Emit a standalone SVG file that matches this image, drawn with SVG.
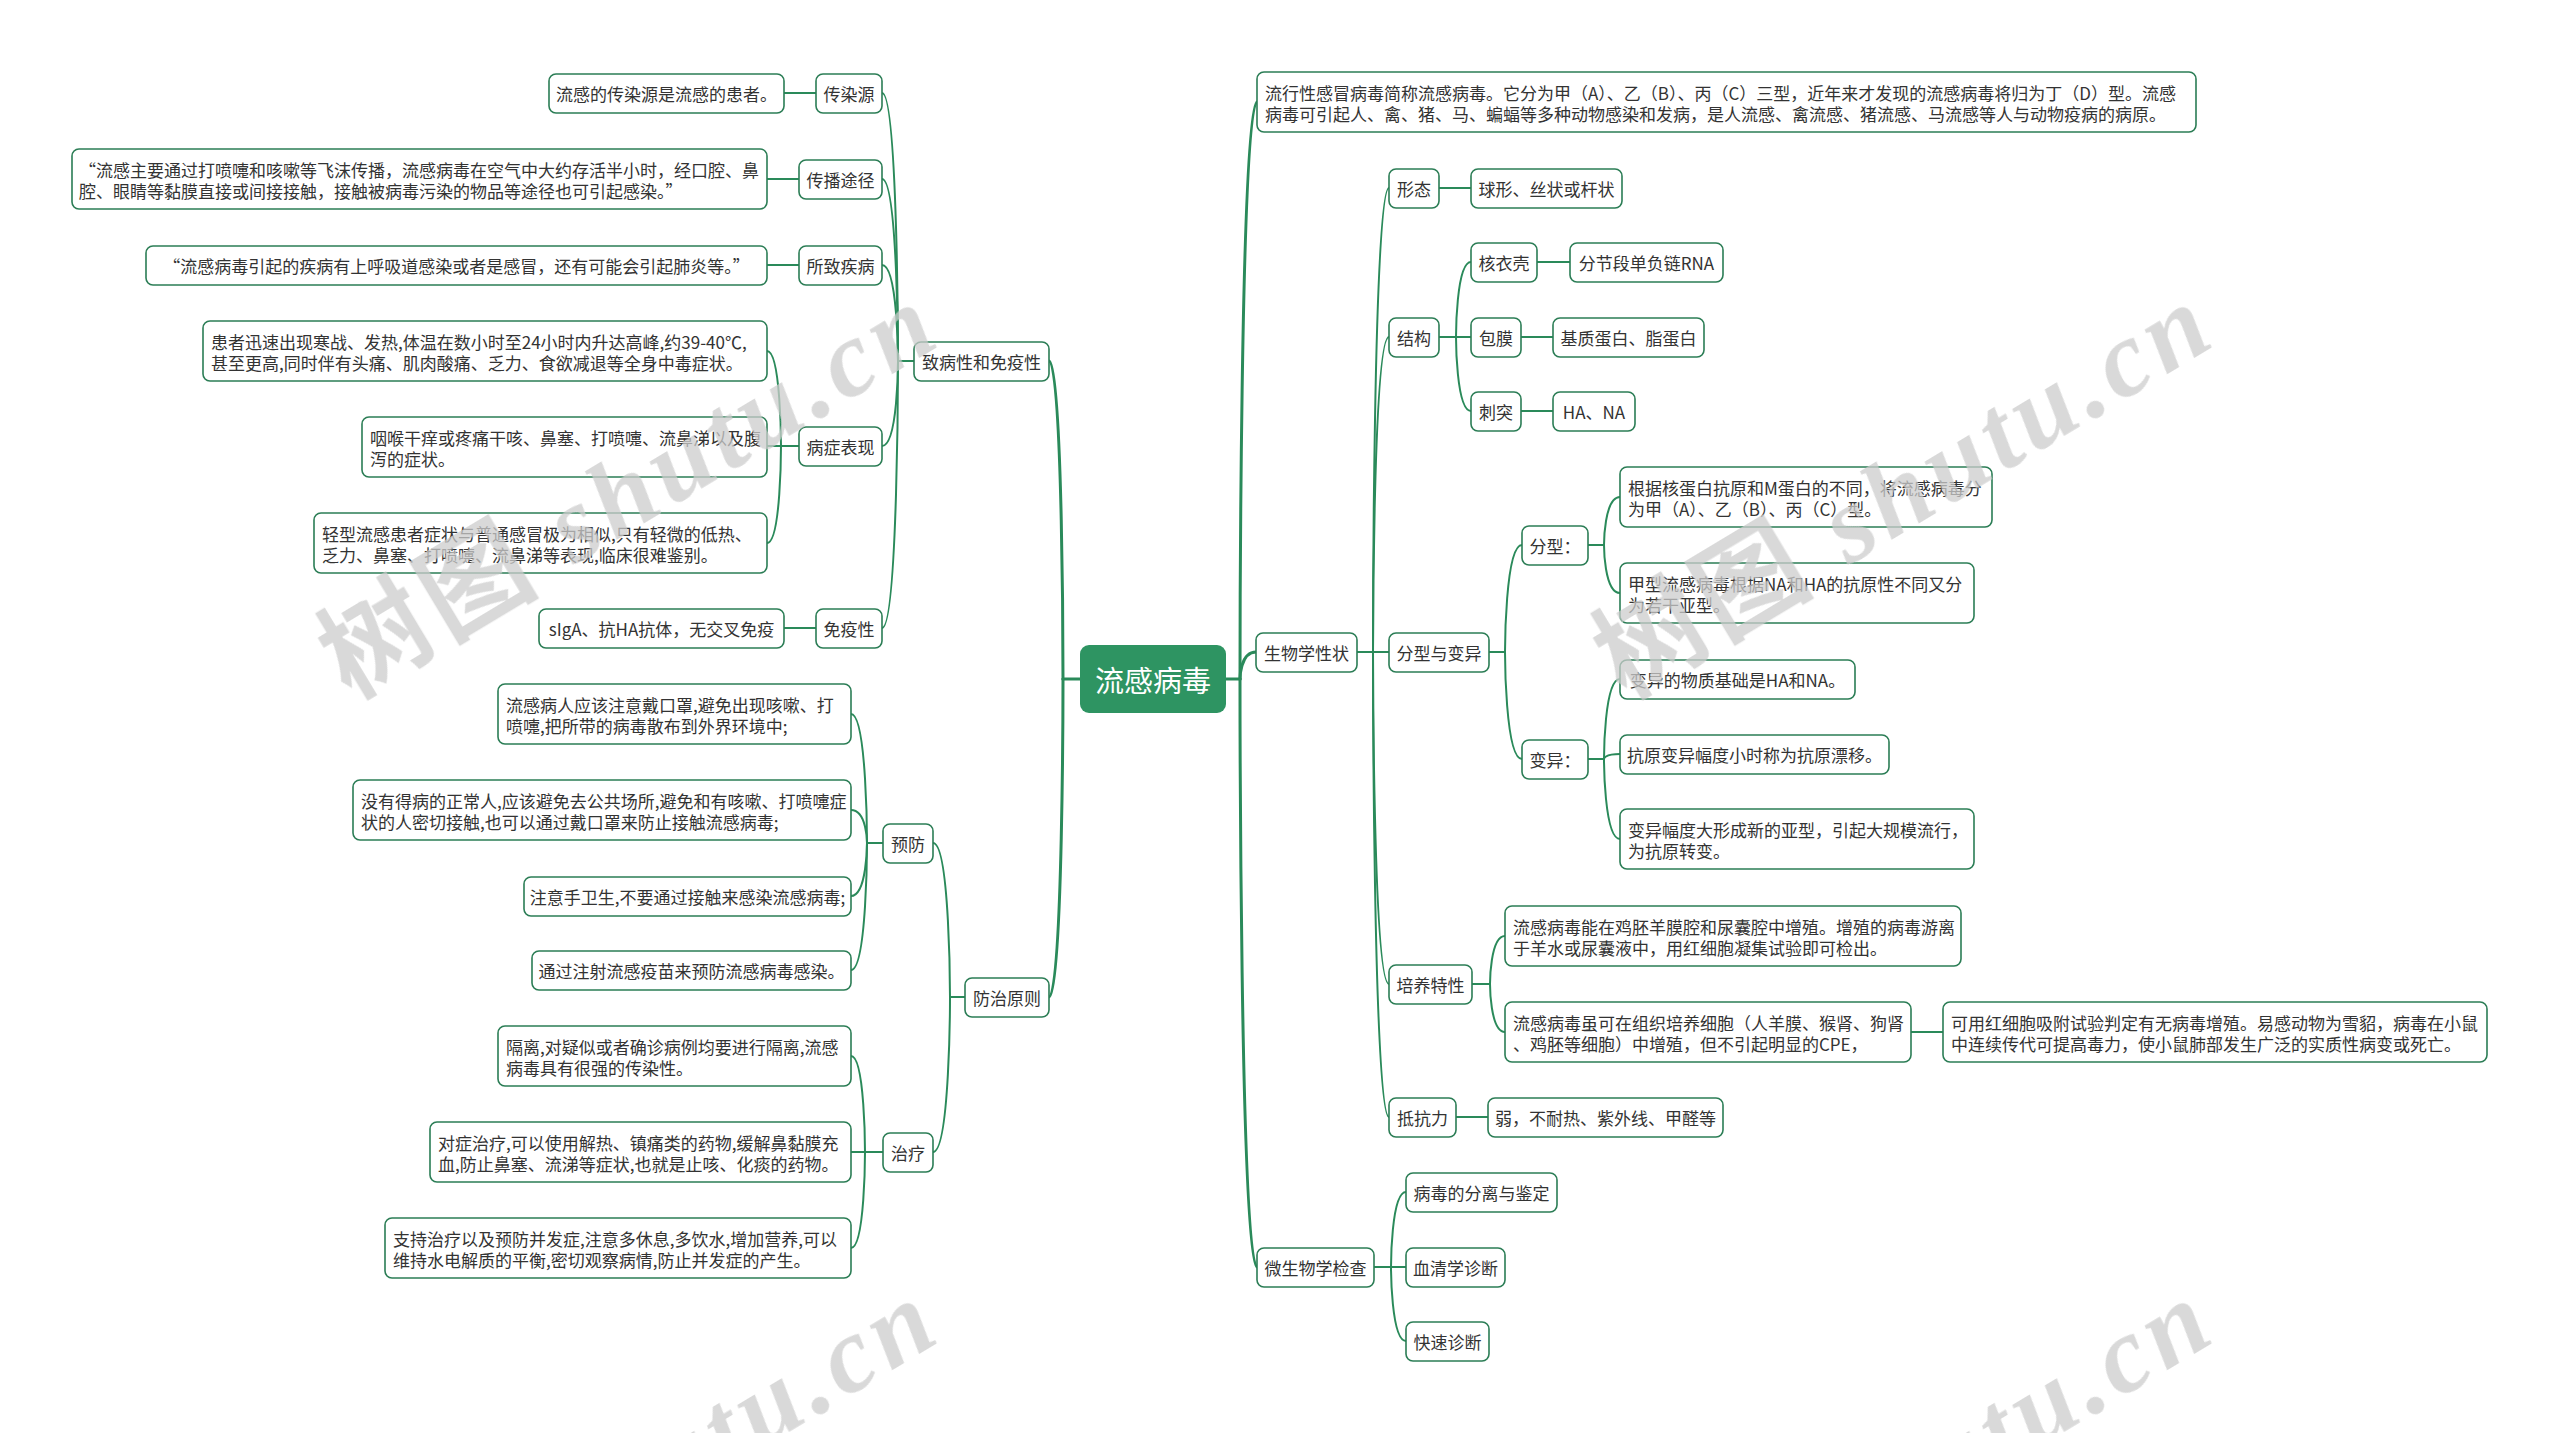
<svg xmlns="http://www.w3.org/2000/svg" width="2560" height="1433" viewBox="0 0 2560 1433">
<style>
.bg{fill:#ffffff}
.n rect{fill:#ffffff;stroke:#2b7d55;stroke-width:1.6}
.t{font-family:"Noto Sans CJK SC","Noto Sans",sans-serif;font-size:17px;fill:#333333;dominant-baseline:central}
.m{text-anchor:middle}
.c path{fill:none;stroke:#2a8a5a;stroke-width:2;stroke-linecap:round}
.c path.r{stroke-width:3}
.root rect{fill:#2e9462;stroke:none}
.root text{font-family:"Noto Sans CJK SC","Noto Sans",sans-serif;font-size:29px;fill:#ffffff;text-anchor:middle;dominant-baseline:central}
.wm{font-size:108px;fill:#cdcdcd;opacity:0.75;letter-spacing:6px}
.wm .z{font-family:"Noto Sans CJK SC",sans-serif;font-weight:bold}
.wm .l{font-family:"Liberation Serif",serif;font-style:italic;font-weight:bold}
</style>
<rect class="bg" x="0" y="0" width="2560" height="1433"/>
<g id="connectors" class="c">
<path class="r" d="M1080,679 H1063"/>
<path class="r" d="M1063,679 C1063,679 1063,361 1049,361"/>
<path class="r" d="M1063,679 C1063,679 1063,997 1049,997"/>
<path class="r" d="M1226,679 H1240"/>
<path class="r" d="M1240,679 C1240,679 1240,102 1257,102"/>
<path class="r" d="M1240,679 C1240,679 1240,652 1256,652"/>
<path class="r" d="M1240,679 C1240,679 1240,1267 1257,1267"/>
<path d="M1357,652 H1373"/>
<path d="M1373,652 C1373,652 1373,188 1389,188"/>
<path d="M1373,652 C1373,652 1373,337 1389,337"/>
<path d="M1373,652 H1389"/>
<path d="M1373,652 C1373,652 1373,984 1389,984"/>
<path d="M1373,652 C1373,652 1373,1117 1389,1117"/>
<path d="M1439,188 H1471"/>
<path d="M1439,337 H1456"/>
<path d="M1456,337 C1456,337 1456,262 1471,262"/>
<path d="M1456,337 H1471"/>
<path d="M1456,337 C1456,337 1456,411 1471,411"/>
<path d="M1537,262 H1570"/>
<path d="M1521,337 H1553"/>
<path d="M1521,411 H1553"/>
<path d="M1489,652 H1505"/>
<path d="M1505,652 C1505,652 1505,545 1522,545"/>
<path d="M1505,652 C1505,652 1505,759 1522,759"/>
<path d="M1588,545 H1604"/>
<path d="M1604,545 C1604,545 1604,497 1620,497"/>
<path d="M1604,545 C1604,545 1604,593 1620,593"/>
<path d="M1588,759 H1604"/>
<path d="M1604,759 C1604,759 1604,679 1620,679"/>
<path d="M1604,759 C1604,759 1604,754 1620,754"/>
<path d="M1604,759 C1604,759 1604,839 1620,839"/>
<path d="M1472,984 H1490"/>
<path d="M1490,984 C1490,984 1490,936 1505,936"/>
<path d="M1490,984 C1490,984 1490,1032 1505,1032"/>
<path d="M1911,1032 H1943"/>
<path d="M1456,1117 H1488"/>
<path d="M1374,1267 H1391"/>
<path d="M1391,1267 C1391,1267 1391,1192 1406,1192"/>
<path d="M1391,1267 H1406"/>
<path d="M1391,1267 C1391,1267 1391,1341 1406,1341"/>
<path d="M914,361 H898"/>
<path d="M898,361 C898,361 898,93 882,93"/>
<path d="M898,361 C898,361 898,179 882,179"/>
<path d="M898,361 C898,361 898,265 882,265"/>
<path d="M898,361 C898,361 898,446 882,446"/>
<path d="M898,361 C898,361 898,628 882,628"/>
<path d="M816,93 H784"/>
<path d="M799,179 H767"/>
<path d="M799,265 H767"/>
<path d="M816,628 H784"/>
<path d="M799,446 H781"/>
<path d="M781,446 C781,446 781,351 767,351"/>
<path d="M781,446 H767"/>
<path d="M781,446 C781,446 781,543 767,543"/>
<path d="M965,997 H950"/>
<path d="M950,997 C950,997 950,843 933,843"/>
<path d="M950,997 C950,997 950,1152 933,1152"/>
<path d="M883,843 H867"/>
<path d="M867,843 C867,843 867,714 851,714"/>
<path d="M867,843 C867,843 867,810 851,810"/>
<path d="M867,843 C867,843 867,896 851,896"/>
<path d="M867,843 C867,843 867,970 851,970"/>
<path d="M883,1152 H865"/>
<path d="M865,1152 C865,1152 865,1056 851,1056"/>
<path d="M865,1152 H851"/>
<path d="M865,1152 C865,1152 865,1248 851,1248"/>
</g>
<g id="root" class="root"><rect x="1080" y="645" width="146" height="68" rx="9"/><text x="1153" y="679">流感病毒</text></g>
<g id="n-zbx" class="n"><rect x="914" y="342" width="135" height="39" rx="7"/><text class="t m" x="981.5" y="361.5">致病性和免疫性</text></g>
<g id="n-crs" class="n"><rect x="816" y="74" width="66" height="39" rx="7"/><text class="t m" x="849" y="93.5">传染源</text></g>
<g id="n-crs-t" class="n"><rect x="549" y="74" width="235" height="39" rx="7"/><text class="t m" x="666.5" y="93.5">流感的传染源是流感的患者。</text></g>
<g id="n-cbtj" class="n"><rect x="799" y="160" width="83" height="39" rx="7"/><text class="t m" x="840.5" y="179.5">传播途径</text></g>
<g id="n-cbtj-t" class="n"><rect x="72" y="149" width="695" height="60" rx="7"/><text class="t"><tspan x="79" y="169">“流感主要通过打喷嚏和咳嗽等飞沫传播，流感病毒在空气中大约存活半小时，经口腔、鼻</tspan><tspan x="79" y="190">腔、眼睛等黏膜直接或间接接触，接触被病毒污染的物品等途径也可引起感染。”</tspan></text></g>
<g id="n-szjb" class="n"><rect x="799" y="246" width="83" height="39" rx="7"/><text class="t m" x="840.5" y="265.5">所致疾病</text></g>
<g id="n-szjb-t" class="n"><rect x="146" y="246" width="621" height="39" rx="7"/><text class="t m" x="456.5" y="265.5">“流感病毒引起的疾病有上呼吸道感染或者是感冒，还有可能会引起肺炎等。”</text></g>
<g id="n-bzbx" class="n"><rect x="799" y="427" width="83" height="39" rx="7"/><text class="t m" x="840.5" y="446.5">病症表现</text></g>
<g id="n-bz1" class="n"><rect x="203" y="321" width="564" height="60" rx="7"/><text class="t"><tspan x="211" y="341">患者迅速出现寒战、发热,体温在数小时至24小时内升达高峰,约39-40℃,</tspan><tspan x="211" y="362">甚至更高,同时伴有头痛、肌肉酸痛、乏力、食欲减退等全身中毒症状。</tspan></text></g>
<g id="n-bz2" class="n"><rect x="362" y="417" width="405" height="60" rx="7"/><text class="t"><tspan x="370" y="437">咽喉干痒或疼痛干咳、鼻塞、打喷嚏、流鼻涕以及腹</tspan><tspan x="370" y="458">泻的症状。</tspan></text></g>
<g id="n-bz3" class="n"><rect x="314" y="513" width="453" height="60" rx="7"/><text class="t"><tspan x="322" y="533">轻型流感患者症状与普通感冒极为相似,只有轻微的低热、</tspan><tspan x="322" y="554">乏力、鼻塞、打喷嚏、流鼻涕等表现,临床很难鉴别。</tspan></text></g>
<g id="n-myx" class="n"><rect x="816" y="609" width="66" height="39" rx="7"/><text class="t m" x="849" y="628.5">免疫性</text></g>
<g id="n-myx-t" class="n"><rect x="539" y="609" width="245" height="39" rx="7"/><text class="t m" x="661.5" y="628.5">sIgA、抗HA抗体，无交叉免疫</text></g>
<g id="n-fzyz" class="n"><rect x="965" y="978" width="84" height="39" rx="7"/><text class="t m" x="1007" y="997.5">防治原则</text></g>
<g id="n-yf" class="n"><rect x="883" y="824" width="50" height="39" rx="7"/><text class="t m" x="908" y="843.5">预防</text></g>
<g id="n-yf1" class="n"><rect x="498" y="684" width="353" height="60" rx="7"/><text class="t"><tspan x="506" y="704">流感病人应该注意戴口罩,避免出现咳嗽、打</tspan><tspan x="506" y="725">喷嚏,把所带的病毒散布到外界环境中;</tspan></text></g>
<g id="n-yf2" class="n"><rect x="353" y="780" width="498" height="60" rx="7"/><text class="t"><tspan x="361" y="800">没有得病的正常人,应该避免去公共场所,避免和有咳嗽、打喷嚏症</tspan><tspan x="361" y="821">状的人密切接触,也可以通过戴口罩来防止接触流感病毒;</tspan></text></g>
<g id="n-yf3" class="n"><rect x="524" y="877" width="327" height="39" rx="7"/><text class="t m" x="687.5" y="896.5">注意手卫生,不要通过接触来感染流感病毒;</text></g>
<g id="n-yf4" class="n"><rect x="532" y="951" width="319" height="39" rx="7"/><text class="t m" x="691.5" y="970.5">通过注射流感疫苗来预防流感病毒感染。</text></g>
<g id="n-zl" class="n"><rect x="883" y="1133" width="50" height="39" rx="7"/><text class="t m" x="908" y="1152.5">治疗</text></g>
<g id="n-zl1" class="n"><rect x="498" y="1026" width="353" height="60" rx="7"/><text class="t"><tspan x="506" y="1046">隔离,对疑似或者确诊病例均要进行隔离,流感</tspan><tspan x="506" y="1067">病毒具有很强的传染性。</tspan></text></g>
<g id="n-zl2" class="n"><rect x="430" y="1122" width="421" height="60" rx="7"/><text class="t"><tspan x="438" y="1142">对症治疗,可以使用解热、镇痛类的药物,缓解鼻黏膜充</tspan><tspan x="438" y="1163">血,防止鼻塞、流涕等症状,也就是止咳、化痰的药物。</tspan></text></g>
<g id="n-zl3" class="n"><rect x="385" y="1218" width="466" height="60" rx="7"/><text class="t"><tspan x="393" y="1238">支持治疗以及预防并发症,注意多休息,多饮水,增加营养,可以</tspan><tspan x="393" y="1259">维持水电解质的平衡,密切观察病情,防止并发症的产生。</tspan></text></g>
<g id="n-def" class="n"><rect x="1257" y="72" width="939" height="60" rx="7"/><text class="t"><tspan x="1265" y="92">流行性感冒病毒简称流感病毒。它分为甲（A）、乙（B）、丙（C）三型，近年来才发现的流感病毒将归为丁（D）型。流感</tspan><tspan x="1265" y="113">病毒可引起人、禽、猪、马、蝙蝠等多种动物感染和发病，是人流感、禽流感、猪流感、马流感等人与动物疫病的病原。</tspan></text></g>
<g id="n-swx" class="n"><rect x="1256" y="633" width="101" height="39" rx="7"/><text class="t m" x="1306.5" y="652.5">生物学性状</text></g>
<g id="n-xt" class="n"><rect x="1389" y="169" width="50" height="39" rx="7"/><text class="t m" x="1414" y="188.5">形态</text></g>
<g id="n-xt-t" class="n"><rect x="1471" y="169" width="151" height="39" rx="7"/><text class="t m" x="1546.5" y="188.5">球形、丝状或杆状</text></g>
<g id="n-jg" class="n"><rect x="1389" y="318" width="50" height="39" rx="7"/><text class="t m" x="1414" y="337.5">结构</text></g>
<g id="n-hyk" class="n"><rect x="1471" y="243" width="66" height="39" rx="7"/><text class="t m" x="1504" y="262.5">核衣壳</text></g>
<g id="n-hyk-t" class="n"><rect x="1570" y="243" width="153" height="39" rx="7"/><text class="t m" x="1646.5" y="262.5">分节段单负链RNA</text></g>
<g id="n-bm" class="n"><rect x="1471" y="318" width="50" height="39" rx="7"/><text class="t m" x="1496" y="337.5">包膜</text></g>
<g id="n-bm-t" class="n"><rect x="1553" y="318" width="151" height="39" rx="7"/><text class="t m" x="1628.5" y="337.5">基质蛋白、脂蛋白</text></g>
<g id="n-ct" class="n"><rect x="1471" y="392" width="50" height="39" rx="7"/><text class="t m" x="1496" y="411.5">刺突</text></g>
<g id="n-ct-t" class="n"><rect x="1553" y="392" width="82" height="39" rx="7"/><text class="t m" x="1594" y="411.5">HA、NA</text></g>
<g id="n-fxby" class="n"><rect x="1389" y="633" width="100" height="39" rx="7"/><text class="t m" x="1439" y="652.5">分型与变异</text></g>
<g id="n-fx" class="n"><rect x="1522" y="526" width="66" height="39" rx="7"/><text class="t m" x="1555" y="545.5">分型：</text></g>
<g id="n-fx1" class="n"><rect x="1620" y="467" width="372" height="60" rx="7"/><text class="t"><tspan x="1628" y="487">根据核蛋白抗原和M蛋白的不同，将流感病毒分</tspan><tspan x="1628" y="508">为甲（A）、乙（B）、丙（C）型。</tspan></text></g>
<g id="n-fx2" class="n"><rect x="1620" y="563" width="354" height="60" rx="7"/><text class="t"><tspan x="1628" y="583">甲型流感病毒根据NA和HA的抗原性不同又分</tspan><tspan x="1628" y="604">为若干亚型。</tspan></text></g>
<g id="n-by" class="n"><rect x="1522" y="740" width="66" height="39" rx="7"/><text class="t m" x="1555" y="759.5">变异：</text></g>
<g id="n-by1" class="n"><rect x="1620" y="660" width="235" height="39" rx="7"/><text class="t m" x="1737.5" y="679.5">变异的物质基础是HA和NA。</text></g>
<g id="n-by2" class="n"><rect x="1620" y="735" width="269" height="39" rx="7"/><text class="t m" x="1754.5" y="754.5">抗原变异幅度小时称为抗原漂移。</text></g>
<g id="n-by3" class="n"><rect x="1620" y="809" width="354" height="60" rx="7"/><text class="t"><tspan x="1628" y="829">变异幅度大形成新的亚型，引起大规模流行，</tspan><tspan x="1628" y="850">为抗原转变。</tspan></text></g>
<g id="n-pytx" class="n"><rect x="1389" y="965" width="83" height="39" rx="7"/><text class="t m" x="1430.5" y="984.5">培养特性</text></g>
<g id="n-py1" class="n"><rect x="1505" y="906" width="456" height="60" rx="7"/><text class="t"><tspan x="1513" y="926">流感病毒能在鸡胚羊膜腔和尿囊腔中增殖。增殖的病毒游离</tspan><tspan x="1513" y="947">于羊水或尿囊液中，用红细胞凝集试验即可检出。</tspan></text></g>
<g id="n-py2" class="n"><rect x="1505" y="1002" width="406" height="60" rx="7"/><text class="t"><tspan x="1513" y="1022">流感病毒虽可在组织培养细胞（人羊膜、猴肾、狗肾</tspan><tspan x="1513" y="1043">、鸡胚等细胞）中增殖，但不引起明显的CPE，</tspan></text></g>
<g id="n-py3" class="n"><rect x="1943" y="1002" width="544" height="60" rx="7"/><text class="t"><tspan x="1951" y="1022">可用红细胞吸附试验判定有无病毒增殖。易感动物为雪貂，病毒在小鼠</tspan><tspan x="1951" y="1043">中连续传代可提高毒力，使小鼠肺部发生广泛的实质性病变或死亡。</tspan></text></g>
<g id="n-dkl" class="n"><rect x="1389" y="1098" width="67" height="39" rx="7"/><text class="t m" x="1422.5" y="1117.5">抵抗力</text></g>
<g id="n-dkl-t" class="n"><rect x="1488" y="1098" width="235" height="39" rx="7"/><text class="t m" x="1605.5" y="1117.5">弱，不耐热、紫外线、甲醛等</text></g>
<g id="n-wsw" class="n"><rect x="1257" y="1248" width="117" height="39" rx="7"/><text class="t m" x="1315.5" y="1267.5">微生物学检查</text></g>
<g id="n-wsw1" class="n"><rect x="1406" y="1173" width="151" height="39" rx="7"/><text class="t m" x="1481.5" y="1192.5">病毒的分离与鉴定</text></g>
<g id="n-wsw2" class="n"><rect x="1406" y="1248" width="99" height="39" rx="7"/><text class="t m" x="1455.5" y="1267.5">血清学诊断</text></g>
<g id="n-wsw3" class="n"><rect x="1406" y="1322" width="83" height="39" rx="7"/><text class="t m" x="1447.5" y="1341.5">快速诊断</text></g>
<g id="watermark" class="wm">
<text transform="translate(350,700) rotate(-31)"><tspan class="z">树图</tspan><tspan class="l"> shutu.cn</tspan></text>
<text transform="translate(1625,700) rotate(-31)"><tspan class="z">树图</tspan><tspan class="l"> shutu.cn</tspan></text>
<text transform="translate(350,1696) rotate(-31)"><tspan class="z">树图</tspan><tspan class="l"> shutu.cn</tspan></text>
<text transform="translate(1625,1696) rotate(-31)"><tspan class="z">树图</tspan><tspan class="l"> shutu.cn</tspan></text>
</g>
</svg>
